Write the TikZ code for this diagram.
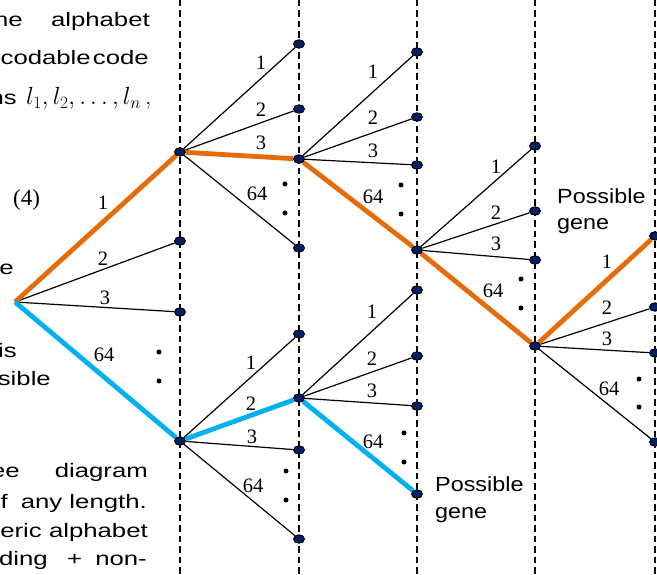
\documentclass[tikz,border=0pt]{standalone}
\usepackage{fontspec}
\usetikzlibrary{shapes.geometric,backgrounds}
\newfontfamily\bodysans[FakeStretch=1.32]{Liberation Sans}
\newfontfamily\genesans[FakeStretch=1.14]{Liberation Sans}
\newfontfamily\labserif{Liberation Serif}
\definecolor{pathorange}{RGB}{228,108,10}
\definecolor{pathblue}{RGB}{0,176,240}
\definecolor{nodenavy}{RGB}{0,32,96}

\begin{document}
\begin{tikzpicture}[x=1pt,y=-1pt,
  vert/.style={draw=black, line width=1.3pt, dash pattern=on 6.5pt off 4pt},
  vtx/.style={ellipse, draw=black, line width=0.9pt, fill=nodenavy,
    minimum width=11pt, minimum height=8.5pt, inner sep=0pt},
  dotmark/.style={circle, fill=black, minimum size=5pt, inner sep=0pt},
  branch/.style={draw=black, line width=1.2pt},
  orangepath/.style={draw=pathorange, line width=4.8pt},
  bluepath/.style={draw=pathblue, line width=4.8pt},
  lab/.style={font=\labserif\fontsize{20.5}{20}\selectfont, inner sep=0pt},
  bodytext/.style={font=\bodysans\fontsize{19.5}{20}\selectfont, inner sep=0pt},
  genetext/.style={font=\genesans\fontsize{20.5}{22}\selectfont, inner sep=0pt, anchor=base west},
]
\useasboundingbox (0,0) rectangle (657,575);
\clip (0,0) rectangle (657,575);

% ---- paragraph text on the left ----
\node[bodytext, anchor=base east] (t1a) at (23,27) {he};
\node[bodytext, anchor=base east] (t1b) at (150,27) {alphabet};
\node[bodytext, anchor=base east] (t2a) at (91,65) {codable};
\node[bodytext, anchor=base east] (t2b) at (149,65) {code};
\node[bodytext, anchor=base east] (t3a) at (17,105) {ns};
\node[anchor=base west, font=\fontsize{25}{25}\selectfont, inner sep=0pt] (t3b) at (26,105) {$l_1,l_2,\ldots,l_n$\,,};
\node[anchor=base west, font=\labserif\fontsize{23}{23}\selectfont, inner sep=0pt] (t4) at (13,206) {(4)};
\node[bodytext, anchor=base east] (t5) at (14,275) {e};
\node[bodytext, anchor=base east] (t6) at (17,357) {is};
\node[bodytext, anchor=base east] (t7) at (51,385) {sible};
\node[bodytext, anchor=base east] (t8a) at (20,477) {ee};
\node[bodytext, anchor=base east] (t8b) at (148,477) {diagram};
\node[bodytext, anchor=base east] (t9a) at (8,508) {f};
\node[bodytext, anchor=base east] (t9b) at (147,508) {any length.};
\node[bodytext, anchor=base east] (t10a) at (42,537) {eric};
\node[bodytext, anchor=base east] (t10b) at (148,537) {alphabet};
\node[bodytext, anchor=base east] (t11a) at (48,565) {ding};
\node[bodytext, anchor=base west] (t11b) at (67,565) {+};
\node[bodytext, anchor=base east] (t11c) at (147,565) {non-};

% ---- tree vertices ----
\coordinate (r) at (15,302);
\node[vtx] (a1) at (180,152) {};
\node[vtx] (a2) at (180,241) {};
\node[vtx] (a3) at (180,312) {};
\node[vtx] (a64) at (180,441) {};

\node[vtx] (b1) at (299,44) {};
\node[vtx] (b2) at (299,109) {};
\node[vtx] (b3) at (299,159) {};
\node[vtx] (b64) at (299,248) {};

\node[vtx] (c1) at (299,334) {};
\node[vtx] (c2) at (299,398) {};
\node[vtx] (c3) at (299,450) {};
\node[vtx] (c64) at (299,539) {};

\node[vtx] (d1) at (417,52) {};
\node[vtx] (d2) at (417,117) {};
\node[vtx] (d3) at (417,165) {};
\node[vtx] (d64) at (417,250) {};

\node[vtx] (e1) at (417,290) {};
\node[vtx] (e2) at (417,356) {};
\node[vtx] (e3) at (417,406) {};
\node[vtx] (e64) at (417,494) {};

\node[vtx] (f1) at (535,146) {};
\node[vtx] (f2) at (535,211) {};
\node[vtx] (f3) at (535,260) {};
\node[vtx] (f64) at (535,346) {};

\node[vtx] (g1) at (655,236) {};
\node[vtx] (g2) at (655,307) {};
\node[vtx] (g3) at (655,353) {};
\node[vtx] (g64) at (655,442) {};

% ---- guides and branches behind the vertices ----
\begin{pgfonlayer}{background}
  \foreach \xx/\nm in {180/v1,299/v2,417/v3,535/v4,655/v5} {
    \coordinate (\nm top) at (\xx,0);
    \coordinate (\nm bot) at (\xx,575);
    \draw[vert] (\nm top) -- (\nm bot);
  }
  % black branches
  \draw[branch] (r) -- (a2);  \draw[branch] (r) -- (a3);
  \draw[branch] (a1) -- (b1); \draw[branch] (a1) -- (b2); \draw[branch] (a1) -- (b64);
  \draw[branch] (a64) -- (c1); \draw[branch] (a64) -- (c3); \draw[branch] (a64) -- (c64);
  \draw[branch] (b3) -- (d1); \draw[branch] (b3) -- (d2); \draw[branch] (b3) -- (d3);
  \draw[branch] (c2) -- (e1); \draw[branch] (c2) -- (e2); \draw[branch] (c2) -- (e3);
  \draw[branch] (d64) -- (f1); \draw[branch] (d64) -- (f2); \draw[branch] (d64) -- (f3);
  \draw[branch] (f64) -- (g2); \draw[branch] (f64) -- (g3); \draw[branch] (f64) -- (g64);
  % highlighted paths
  \draw[orangepath] (r) -- (a1);
  \draw[orangepath] (a1) -- (b3);
  \draw[orangepath] (b3) -- (d64);
  \draw[orangepath] (d64) -- (f64);
  \draw[orangepath] (f64) -- (g1);
  \draw[bluepath] (r) -- (a64);
  \draw[bluepath] (a64) -- (c2);
  \draw[bluepath] (c2) -- (e64);
\end{pgfonlayer}

% ---- branch labels and ellipsis dots ----
\node[lab] (lr1) at (103,203) {1};
\node[lab] (lr2) at (103,259) {2};
\node[lab] (lr3) at (105,298) {3};
\node[lab] (lr64) at (104,355) {64};
\node[dotmark] (dr1) at (159,352) {};
\node[dotmark] (dr2) at (159,381) {};

\node[lab] (la1) at (261,63) {1};
\node[lab] (la2) at (261,110) {2};
\node[lab] (la3) at (261,143) {3};
\node[lab] (la64) at (257,194) {64};
\node[dotmark] (da1) at (285,184) {};
\node[dotmark] (da2) at (285,213) {};

\node[lab] (lc1) at (251,363) {1};
\node[lab] (lc2) at (251,404) {2};
\node[lab] (lc3) at (252,437) {3};
\node[lab] (lc64) at (253,486) {64};
\node[dotmark] (dc1) at (286,471) {};
\node[dotmark] (dc2) at (286,500) {};

\node[lab] (ld1) at (373,72) {1};
\node[lab] (ld2) at (373,118) {2};
\node[lab] (ld3) at (373,151) {3};
\node[lab] (ld64) at (373,197) {64};
\node[dotmark] (dd1) at (401,185) {};
\node[dotmark] (dd2) at (401,214) {};

\node[lab] (le1) at (372,312) {1};
\node[lab] (le2) at (372,359) {2};
\node[lab] (le3) at (372,391) {3};
\node[lab] (le64) at (373,442) {64};
\node[dotmark] (de1) at (404,433) {};
\node[dotmark] (de2) at (404,462) {};

\node[lab] (lf1) at (496,167) {1};
\node[lab] (lf2) at (496,213) {2};
\node[lab] (lf3) at (496,244) {3};
\node[lab] (lf64) at (493,291) {64};
\node[dotmark] (df1) at (521,279) {};
\node[dotmark] (df2) at (521,308) {};

\node[lab] (lg1) at (607,262) {1};
\node[lab] (lg2) at (607,308) {2};
\node[lab] (lg3) at (607,339) {3};
\node[lab] (lg64) at (609,389) {64};
\node[dotmark] (dg1) at (639,379) {};
\node[dotmark] (dg2) at (639,407) {};

% ---- gene annotations ----
\node[genetext] (pg1a) at (557,204) {Possible};
\node[genetext] (pg1b) at (557,230) {gene};
\node[genetext] (pg2a) at (435,491) {Possible};
\node[genetext] (pg2b) at (435,518) {gene};
\end{tikzpicture}
\end{document}
